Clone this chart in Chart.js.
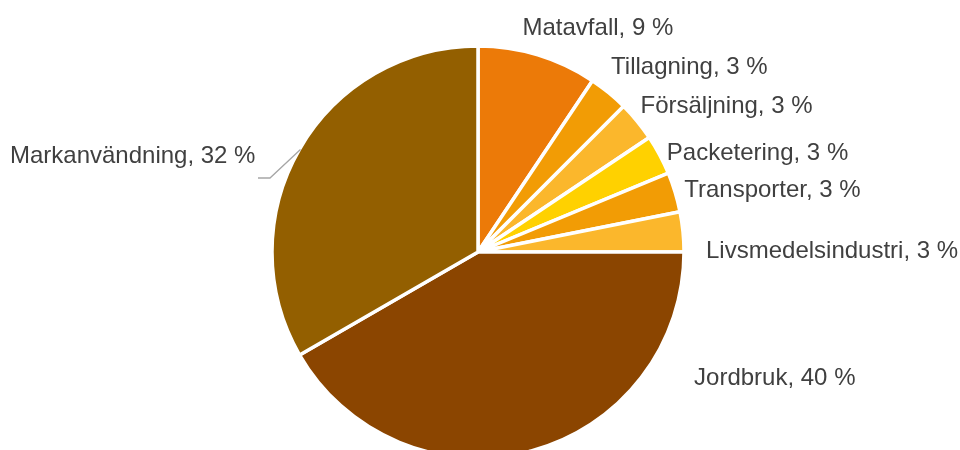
<!DOCTYPE html>
<html>
<head>
<meta charset="utf-8">
<script src="https://cdn.jsdelivr.net/npm/chart.js@4.4.1/dist/chart.umd.min.js"></script>
<style>
  html, body { margin: 0; padding: 0; background: #ffffff; }
  #wrap { width: 960px; height: 450px; }
</style>
</head>
<body>
<div id="wrap"><canvas id="c" width="960" height="450"></canvas></div>
<script>
// Climate impact of food, share per stage (%)
const categories = ['Matavfall', 'Tillagning', 'Försäljning', 'Packetering', 'Transporter', 'Livsmedelsindustri', 'Jordbruk', 'Markanvändning'];
const shares = [9, 3, 3, 3, 3, 3, 40, 32];
const sliceColors = ['#EC7A08', '#F29C05', '#FBB72C', '#FFD100', '#F29C05', '#FBB72C', '#8B4500', '#935F00'];

// Label placement: [dx, dy, align] relative to the outer midpoint of each slice
const labelPlacement = [
  [-15, -21, 'left'],
  [3, -20, 'left'],
  [4, -9, 'left'],
  [8, 5, 'left'],
  [10, 5, 'left'],
  [24, 26, 'left'],
  [163, -65, 'left'],
  [-45, 13, 'right']
];
// Leader lines (only for the label that sits away from its slice)
const leaders = { 7: [[-30.5, 28.5], [-42.5, 28.5]] };

const sliceLabels = {
  id: 'sliceLabels',
  afterDatasetsDraw(chart) {
    const ctx = chart.ctx;
    const meta = chart.getDatasetMeta(0);
    ctx.save();
    ctx.font = '24px "Liberation Sans", Arial, sans-serif';
    ctx.fillStyle = '#404040';
    ctx.textBaseline = 'alphabetic';
    meta.data.forEach((arc, i) => {
      const p = arc.getProps(['x', 'y', 'startAngle', 'endAngle', 'outerRadius'], true);
      const mid = (p.startAngle + p.endAngle) / 2;
      const r = p.outerRadius - 1;
      const ax = p.x + Math.cos(mid) * r;
      const ay = p.y + Math.sin(mid) * r;
      const [dx, dy, align] = labelPlacement[i];
      if (leaders[i]) {
        ctx.beginPath();
        ctx.strokeStyle = '#A6A6A6';
        ctx.lineWidth = 1.3;
        ctx.moveTo(ax, ay);
        leaders[i].forEach(([lx, ly]) => ctx.lineTo(ax + lx, ay + ly));
        ctx.stroke();
      }
      ctx.textAlign = align;
      ctx.fillText(categories[i] + ', ' + shares[i] + ' %', ax + dx, ay + dy);
    });
    ctx.restore();
  }
};

new Chart(document.getElementById('c'), {
  type: 'pie',
  data: {
    labels: categories,
    datasets: [{
      data: shares,
      backgroundColor: sliceColors,
      borderColor: '#ffffff',
      borderWidth: 3.5,
      clip: false
    }]
  },
  options: {
    responsive: false,
    animation: false,
    radius: 206,
    layout: { padding: { left: 0, right: 4, top: 54, bottom: 0 } },
    plugins: {
      legend: { display: false },
      tooltip: { enabled: false }
    }
  },
  plugins: [sliceLabels]
});
</script>
</body>
</html>
